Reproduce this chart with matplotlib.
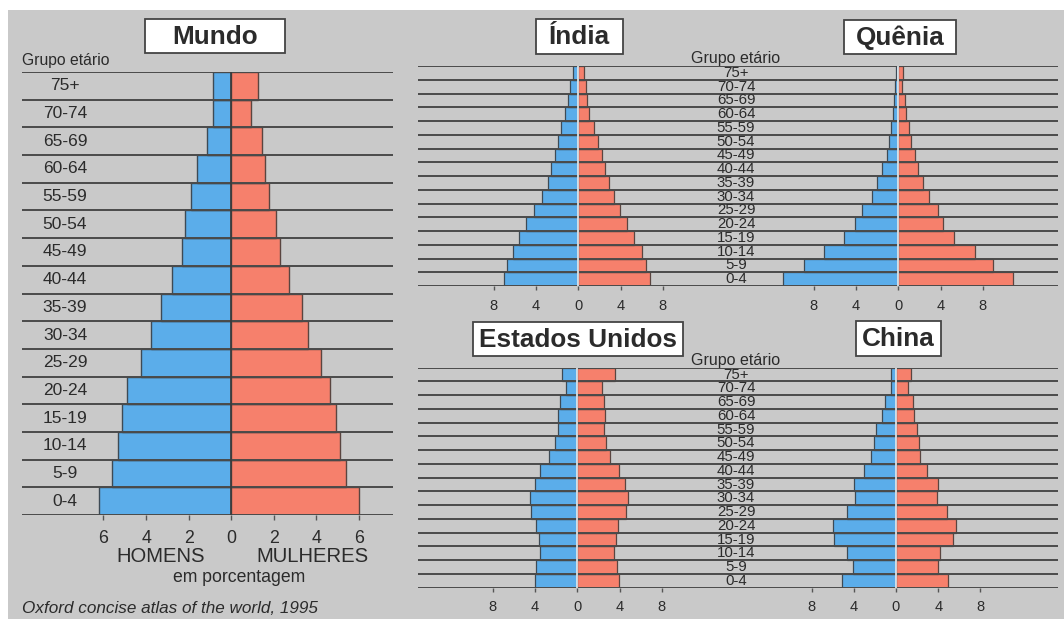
import matplotlib
matplotlib.use("Agg")
import matplotlib.pyplot as plt
from matplotlib.patches import Rectangle
from matplotlib.transforms import Affine2D, blended_transform_factory
from matplotlib.ticker import FuncFormatter

plt.rcParams['font.family'] = ['Liberation Sans', 'DejaVu Sans']

W, H = 1064, 619

age_groups = ["0-4", "5-9", "10-14", "15-19", "20-24", "25-29", "30-34", "35-39",
              "40-44", "45-49", "50-54", "55-59", "60-64", "65-69", "70-74", "75+"]

mundo_homens = [6.2, 5.6, 5.3, 5.15, 4.9, 4.25, 3.75, 3.3, 2.8, 2.3, 2.17, 1.9, 1.6, 1.13, 0.85, 0.85]
mundo_mulheres = [6.0, 5.4, 5.1, 4.9, 4.65, 4.2, 3.6, 3.3, 2.7, 2.3, 2.12, 1.75, 1.6, 1.42, 0.94, 1.27]

india_homens = [7.05, 6.8, 6.15, 5.6, 5.0, 4.2, 3.45, 2.9, 2.6, 2.2, 1.96, 1.6, 1.26, 0.95, 0.8, 0.54]
india_mulheres = [6.8, 6.4, 6.0, 5.27, 4.57, 3.95, 3.38, 2.93, 2.5, 2.27, 1.86, 1.48, 1.04, 0.85, 0.7, 0.54]

quenia_homens = [10.97, 8.9, 7.06, 5.13, 4.15, 3.4, 2.53, 2.0, 1.5, 1.1, 0.85, 0.73, 0.47, 0.4, 0.3, 0.25]
quenia_mulheres = [10.9, 8.95, 7.28, 5.28, 4.27, 3.8, 2.94, 2.3, 1.83, 1.58, 1.2, 1.04, 0.73, 0.63, 0.32, 0.47]

eua_homens = [4.03, 3.87, 3.5, 3.6, 3.87, 4.4, 4.5, 4.03, 3.5, 2.67, 2.1, 1.84, 1.84, 1.6, 1.1, 1.43]
eua_mulheres = [3.97, 3.8, 3.52, 3.7, 3.9, 4.6, 4.83, 4.5, 3.97, 3.1, 2.73, 2.57, 2.63, 2.54, 2.3, 3.56]

china_homens = [5.1, 4.1, 4.67, 5.87, 6.0, 4.67, 3.9, 4.0, 3.0, 2.4, 2.1, 1.85, 1.3, 1.0, 0.5, 0.48]
china_mulheres = [4.96, 3.95, 4.16, 5.42, 5.65, 4.8, 3.84, 3.95, 2.9, 2.3, 2.2, 2.03, 1.75, 1.6, 1.18, 1.4]

mundo_ticks = [-6, -4, -2, 0, 2, 4, 6]
small_ticks = [-8, -4, 0, 4, 8]

BLUE = "#5badea"
RED = "#f6806c"
BG = "#c9c9c9"
LINE = "#4a4a4a"
TXT = "#2b2b2b"

fig = plt.figure(figsize=(W / 100, H / 100), dpi=100)
fig.patch.set_facecolor("white")
PX = Affine2D().scale(1.0 / W, -1.0 / H).translate(0, 1) + fig.transFigure

fig.patches.append(Rectangle((8, 10), W - 8, H - 10, transform=PX,
                             facecolor=BG, edgecolor="none", zorder=-10))


def make_ax(x0, x1, ytop, ybot, zero_px, scale):
    ax = fig.add_axes([x0 / W, 1 - ybot / H, (x1 - x0) / W, (ybot - ytop) / H])
    ax.set_facecolor("none")
    ax.set_xlim(-(zero_px - x0) / scale, (x1 - zero_px) / scale)
    ax.set_ylim(-0.5, len(age_groups) - 0.5)
    for s in ax.spines.values():
        s.set_visible(False)
    ax.set_yticks([])
    return ax


def draw_pyramid(ax, men, women, ticks, fs, tlen, tpad, zero_color, lw_edge):
    y = list(range(len(age_groups)))
    ax.barh(y, [-v for v in men], height=1.0, color=BLUE,
            edgecolor="#3d4a55", linewidth=lw_edge, zorder=2)
    ax.barh(y, women, height=1.0, color=RED,
            edgecolor="#5a4540", linewidth=lw_edge, zorder=2)
    for k in range(len(age_groups) + 1):
        ax.axhline(k - 0.5, color=LINE, linewidth=1.4, zorder=3)
    ax.axvline(0, color=zero_color, linewidth=1.2, zorder=4)
    ax.set_xticks(ticks)
    ax.xaxis.set_major_formatter(FuncFormatter(lambda v, p: f"{abs(int(v))}"))
    ax.tick_params(axis="x", length=tlen, width=1.0, color="#555555",
                   pad=tpad, labelsize=fs, labelcolor=TXT)


def title_box(x0, x1, y0, y1, text):
    fig.patches.append(Rectangle((x0, y0), x1 - x0, y1 - y0, transform=PX,
                                 facecolor="white", edgecolor="#444444",
                                 linewidth=1.3, zorder=5))
    fig.text((x0 + x1) / 2, (y0 + y1) / 2 + 1, text, transform=PX, ha="center",
             va="center", fontsize=18.8, fontweight="bold", color=TXT, zorder=6)


# Mundo
ax_m = make_ax(22, 393, 72, 515, 231.3, 21.3)
draw_pyramid(ax_m, mundo_homens, mundo_mulheres, mundo_ticks, 12.8, 3.6, 7, "#3a3a3a", 1.0)
tr_m = blended_transform_factory(PX, ax_m.transData)
for i, g in enumerate(age_groups):
    fig.text(65, i, g, transform=tr_m, ha="center", va="center", fontsize=12.5, color=TXT)
fig.text(22, 61, "Grupo etário", transform=PX, ha="left", va="center", fontsize=11.3, color=TXT)
fig.text(161, 557, "HOMENS", transform=PX, ha="center", va="center", fontsize=14.6, color=TXT)
fig.text(312, 557, "MULHERES", transform=PX, ha="center", va="center", fontsize=14.6, color=TXT)
fig.text(239, 578, "em porcentagem", transform=PX, ha="center", va="center", fontsize=12.7, color=TXT)
fig.text(22, 616, "Oxford concise atlas of the world, 1995", transform=PX, ha="left",
         va="bottom", fontsize=12.3, style="italic", color=TXT)
title_box(145, 285, 19, 53, "Mundo")

# Upper pair
ax_i = make_ax(418, 738, 66, 286, 578.3, 10.55)
draw_pyramid(ax_i, india_homens, india_mulheres, small_ticks, 10.5, 3, 6, "#e8eef2", 0.9)
ax_q = make_ax(738, 1058, 66, 286, 898.3, 10.55)
draw_pyramid(ax_q, quenia_homens, quenia_mulheres, small_ticks, 10.5, 3, 6, "#e8eef2", 0.9)
tr_u = blended_transform_factory(PX, ax_q.transData)
for i, g in enumerate(age_groups):
    fig.text(736, i, g, transform=tr_u, ha="center", va="center", fontsize=10.8, color=TXT, zorder=6)
fig.text(736, 59, "Grupo etário", transform=PX, ha="center", va="center", fontsize=11.5, color=TXT)
title_box(536, 623, 19, 54, "Índia")
title_box(844, 956, 20, 54, "Quênia")

# Lower pair
ax_e = make_ax(418, 738, 367.7, 587.7, 577.3, 10.55)
draw_pyramid(ax_e, eua_homens, eua_mulheres, small_ticks, 10.5, 3, 6, "#e8eef2", 0.9)
ax_c = make_ax(738, 1058, 367.7, 587.7, 896, 10.55)
draw_pyramid(ax_c, china_homens, china_mulheres, small_ticks, 10.5, 3, 6, "#e8eef2", 0.9)
tr_l = blended_transform_factory(PX, ax_c.transData)
for i, g in enumerate(age_groups):
    fig.text(736, i, g, transform=tr_l, ha="center", va="center", fontsize=10.8, color=TXT, zorder=6)
fig.text(736, 360, "Grupo etário", transform=PX, ha="center", va="center", fontsize=11.5, color=TXT)
title_box(473, 683, 322, 356, "Estados Unidos")
title_box(856, 941, 321, 356, "China")

fig.savefig("out.png", dpi=100, facecolor=fig.get_facecolor())
